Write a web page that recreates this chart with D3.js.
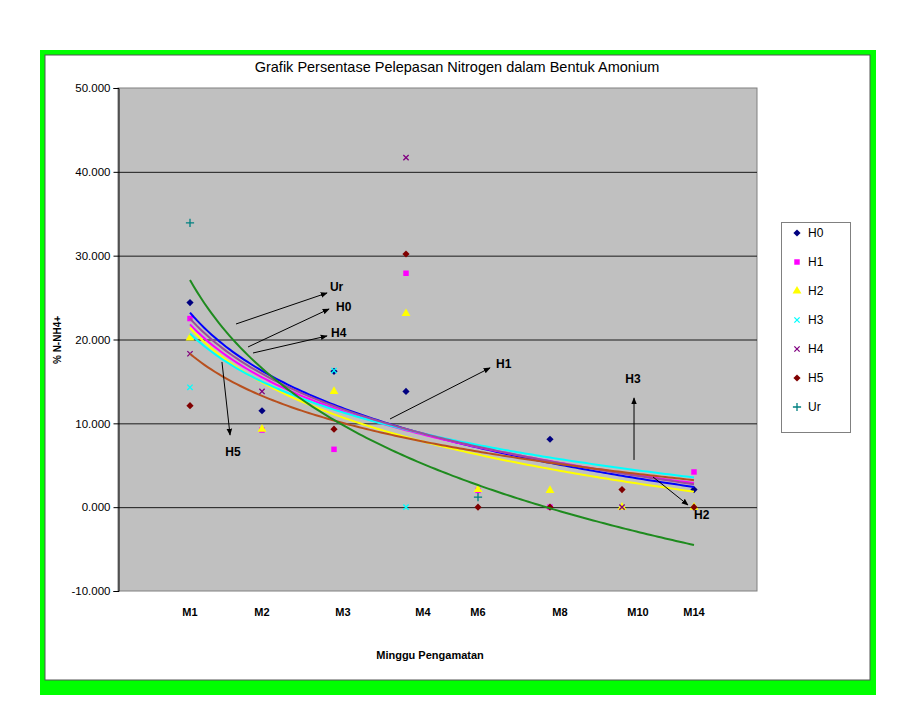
<!DOCTYPE html>
<html><head><meta charset="utf-8">
<script src="https://cdn.jsdelivr.net/npm/d3@7"></script>
<style>body{margin:0;background:#fff;} svg{display:block;font-family:"Liberation Sans",Arial,sans-serif;}</style>
</head><body><svg id="c" width="909" height="728"></svg>
<script>
const categories = ["M1","M2","M3","M4","M6","M8","M10","M14"];
const xPositions = [1,2,3,4,5,6,7,8];
const labelPositions = [1.0,2.0,3.125,4.236,5.0,6.139,7.222,8.0];
const seriesNames = ["H0","H1","H2","H3","H4","H5","Ur"];
const H0 = [24.4,11.5,16.2,13.8,null,8.1,null,2.1];
const H1 = [22.5,9.2,6.9,27.9,2.0,0.0,null,4.2];
const H2 = [20.2,9.3,13.8,23.1,2.1,2.0,0.0,0.0];
const H3 = [14.3,null,16.3,0.0,null,null,null,null];
const H4 = [18.3,13.8,null,41.7,null,null,0.0,null];
const H5 = [12.1,null,9.3,30.2,0.0,0.0,2.1,0.0];
const Ur = [33.9,null,null,null,1.2,null,null,null];
// logarithmic trendlines y = intercept + slope * ln(x)
const trendIntercept = [23.2,21.8,21.4,20.7,22.5,18.3,27.1];
const trendSlope = [-10.0,-9.1,-9.4,-8.25,-9.5,-7.25,-15.2];
const yTicks = [-10,0,10,20,30,40,50];
const annotations = [
  {label:"Ur", x1:1.639,y1:21.85,x2:2.903,y2:25.55,tx:2.944,ty:26.3,anchor:"start"},
  {label:"H0", x1:1.806,y1:19.11,x2:2.931,y2:23.64,tx:3.028,ty:23.88,anchor:"start"},
  {label:"H4", x1:1.875,y1:18.39,x2:2.903,y2:20.42,tx:2.958,ty:20.78,anchor:"start"},
  {label:"H1", x1:3.778,y1:10.52,x2:5.167,y2:16.61,tx:5.25,ty:17.08,anchor:"start"},
  {label:"H5", x1:1.444,y1:17.32,x2:1.556,y2:8.61,tx:1.597,ty:6.59,anchor:"middle"},
  {label:"H3", x1:7.167,y1:5.63,x2:7.167,y2:13.03,tx:7.153,ty:15.29,anchor:"middle"},
  {label:"H2", x1:7.431,y1:3.60,x2:7.917,y2:0.26,tx:8.0,ty:-0.93,anchor:"start"}
];

const seriesData = [H0,H1,H2,H3,H4,H5,Ur];
const markerColor = ["#000080","#FF00FF","#FFFF00","#00FFFF","#800080","#800000","#008080"];
const lineColor = ["#0000FF","#FF00FF","#FFFF00","#00FFFF","#9B4D9B","#B8501E","#1E8B1E"];
const markerType = [d3.symbolSquare,d3.symbolSquare,d3.symbolTriangle,d3.symbolX,d3.symbolX,d3.symbolSquare,d3.symbolPlus];
const markerRot = [45,0,0,0,0,45,0];
const markerStroke = [false,false,false,true,true,false,true];
const markerSize = [26,30,34,20,20,26,24];

const svg = d3.select("#c");
// frame
svg.append("rect").attr("x",40).attr("y",50).attr("width",836).attr("height",645).attr("fill","#00FF00");
svg.append("rect").attr("x",45).attr("y",55).attr("width",825).attr("height",625).attr("fill","#fff").attr("stroke","#555").attr("stroke-width",1);

const x = d3.scaleLinear().domain([0,8.875]).range([118,757]);
const y = d3.scaleLinear().domain([-10,50]).range([591,88]);

svg.append("rect").attr("x",x(0)).attr("y",y(50)).attr("width",x(8.875)-x(0)).attr("height",y(-10)-y(50))
  .attr("fill","#C0C0C0").attr("stroke","#808080").attr("stroke-width",1);

svg.append("g").selectAll("line").data(yTicks.filter(t=>t>-10&&t<50)).join("line")
  .attr("x1",x(0)).attr("x2",x(8.875)).attr("y1",d=>y(d)+0.5).attr("y2",d=>y(d)+0.5)
  .attr("stroke","#1a1a1a").attr("stroke-width",1);

const fmt = d3.format(".3f");
const yAxis = svg.append("g").attr("transform",`translate(${x(0)+0.5},0)`)
  .call(d3.axisLeft(y).tickValues(yTicks).tickFormat(d=>fmt(d).replace("\u2212","-")).tickSize(5).tickPadding(3));
yAxis.select(".domain").attr("stroke","#000");
yAxis.selectAll(".tick line").attr("stroke","#000");
yAxis.selectAll("text").attr("font-size","11.5px").attr("fill","#000").attr("font-family","'Liberation Sans',Arial,sans-serif");

// x labels
svg.append("g").selectAll("text").data(categories).join("text")
  .attr("x",(d,i)=>x(labelPositions[i])).attr("y",616).attr("text-anchor","middle")
  .attr("font-size","11px").attr("font-weight","bold").text(d=>d);

function drawMarker(sel, s){
  sel.attr("d",d3.symbol().type(markerType[s]).size(markerSize[s]))
    .attr("fill",markerStroke[s]?"none":markerColor[s])
    .attr("stroke",markerStroke[s]?markerColor[s]:"none")
    .attr("stroke-width",1.3);
}

// markers
seriesData.forEach((arr,s)=>{
  const g = svg.append("g");
  const pts = arr.map((v,i)=>({v,i})).filter(p=>p.v!==null);
  g.selectAll("path").data(pts).join("path")
    .attr("transform",p=>`translate(${x(xPositions[p.i])},${y(p.v)}) rotate(${markerRot[s]})`)
    .call(drawMarker, s);
});

// trendlines
const xs = d3.range(1,8.0001,0.05);
const line = d3.line().x(d=>x(d[0])).y(d=>y(d[1]));
seriesData.forEach((arr,s)=>{
  const pts = xs.map(v=>[v, trendIntercept[s]+trendSlope[s]*Math.log(v)]);
  svg.append("path").attr("d",line(pts)).attr("fill","none")
    .attr("stroke",lineColor[s]).attr("stroke-width",2);
});

// annotations
svg.append("defs").append("marker").attr("id","ah").attr("viewBox","0 0 10 10")
  .attr("refX",9).attr("refY",5).attr("markerWidth",7).attr("markerHeight",7)
  .attr("orient","auto").attr("markerUnits","userSpaceOnUse")
  .append("path").attr("d","M0,1L10,5L0,9Z").attr("fill","#000");
const ag = svg.append("g");
annotations.forEach(a=>{
  ag.append("line").attr("x1",x(a.x1)).attr("y1",y(a.y1)).attr("x2",x(a.x2)).attr("y2",y(a.y2))
    .attr("stroke","#000").attr("stroke-width",1).attr("marker-end","url(#ah)");
  ag.append("text").attr("x",x(a.tx)).attr("y",y(a.ty)).attr("text-anchor",a.anchor)
    .attr("dominant-baseline","central").attr("font-size","12px").attr("font-weight","bold").text(a.label);
});

// titles
svg.append("text").attr("x",457).attr("y",72).attr("text-anchor","middle").attr("font-size","14.5px").text("Grafik Persentase Pelepasan Nitrogen dalam Bentuk Amonium");
svg.append("text").attr("x",430).attr("y",659).attr("text-anchor","middle").attr("font-size","11px").attr("font-weight","bold").text("Minggu Pengamatan");
svg.append("text").attr("transform","translate(61,340) rotate(-90)").attr("text-anchor","middle").attr("font-size","10px").attr("font-weight","bold").text("% N-NH4+");

// legend
const lg = svg.append("g");
lg.append("rect").attr("x",781.5).attr("y",222.5).attr("width",69).attr("height",210).attr("fill","#fff").attr("stroke","#808080");
seriesNames.forEach((n,s)=>{
  const ly = 233 + s*29;
  lg.append("path").attr("transform",`translate(797,${ly}) rotate(${markerRot[s]})`).call(drawMarker, s);
  lg.append("text").attr("x",808).attr("y",ly).attr("dominant-baseline","central").attr("font-size","12px").text(n);
});
</script></body></html>
